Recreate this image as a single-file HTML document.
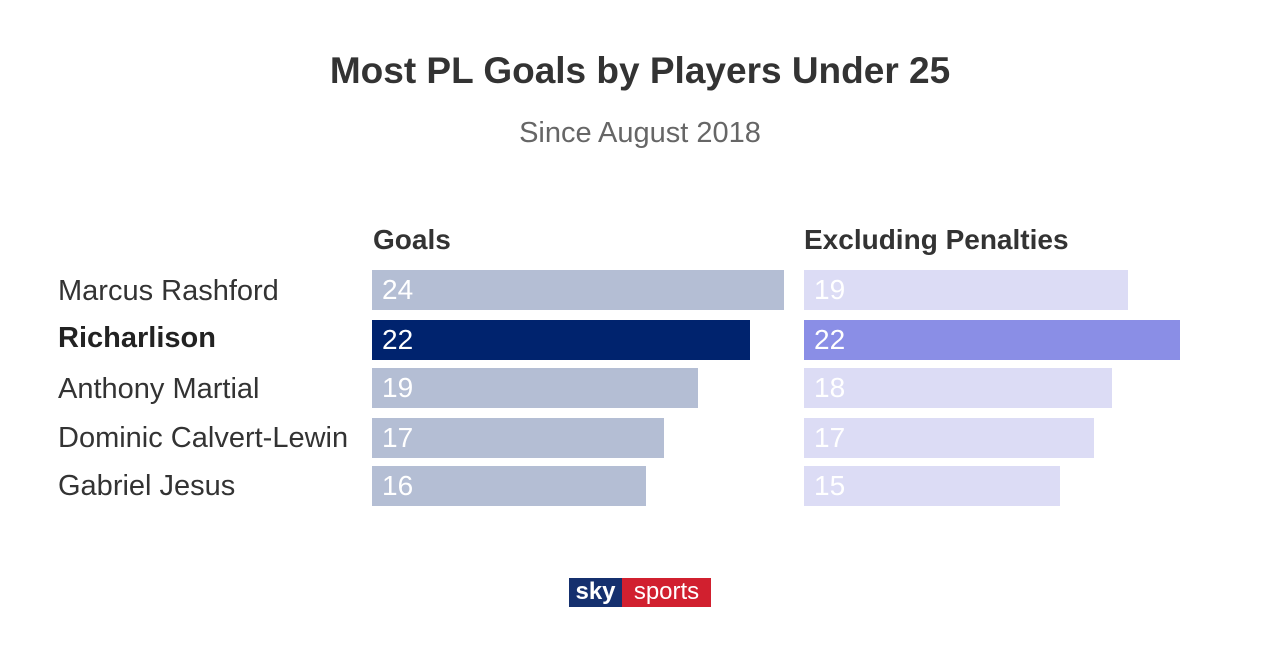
<!DOCTYPE html>
<html><head><style>
body{margin:0;width:1280px;height:662px;background:#fff;font-family:"Liberation Sans",sans-serif;position:relative;overflow:hidden;color:#333}
.a{position:absolute;white-space:nowrap}
.bar{position:absolute;height:40px;color:#fff;font-size:28px;line-height:40px;padding-left:10px;box-sizing:border-box}
.name{position:absolute;left:58px;font-size:29px;line-height:40px;color:#333;white-space:nowrap}
</style></head><body>
<div class="a" style="left:0;width:1280px;text-align:center;top:50px;font-size:37px;font-weight:bold;color:#333">Most PL Goals by Players Under 25</div>
<div class="a" style="left:0;width:1280px;text-align:center;top:117px;font-size:29px;color:#666">Since August 2018</div>
<div class="a" style="left:373px;top:224px;font-size:28px;font-weight:bold">Goals</div>
<div class="a" style="left:804px;top:224px;font-size:28px;font-weight:bold">Excluding Penalties</div>

<div class="name" style="top:271px">Marcus Rashford</div>
<div class="name" style="top:318px;font-weight:bold;color:#222">Richarlison</div>
<div class="name" style="top:369px">Anthony Martial</div>
<div class="name" style="top:418px">Dominic Calvert-Lewin</div>
<div class="name" style="top:466px">Gabriel Jesus</div>

<div class="bar" style="left:372px;top:270px;width:412px;background:#b4bed4">24</div>
<div class="bar" style="left:372px;top:320px;width:378px;background:#00236e">22</div>
<div class="bar" style="left:372px;top:368px;width:326px;background:#b4bed4">19</div>
<div class="bar" style="left:372px;top:418px;width:292px;background:#b4bed4">17</div>
<div class="bar" style="left:372px;top:466px;width:274px;background:#b4bed4">16</div>

<div class="bar" style="left:804px;top:270px;width:324px;background:#dcdcf5">19</div>
<div class="bar" style="left:804px;top:320px;width:376px;background:#8a8ee6">22</div>
<div class="bar" style="left:804px;top:368px;width:308px;background:#dcdcf5">18</div>
<div class="bar" style="left:804px;top:418px;width:290px;background:#dcdcf5">17</div>
<div class="bar" style="left:804px;top:466px;width:256px;background:#dcdcf5">15</div>

<div class="a" style="left:569px;top:578px;width:53px;height:29px;background:#15306e;color:#fff;font-weight:bold;font-size:24px;line-height:28px;text-align:center">sky</div>
<div class="a" style="left:622px;top:578px;width:89px;height:29px;background:#d1202f;color:#fff;font-size:24px;line-height:28px;text-align:center">sports</div>
</body></html>
